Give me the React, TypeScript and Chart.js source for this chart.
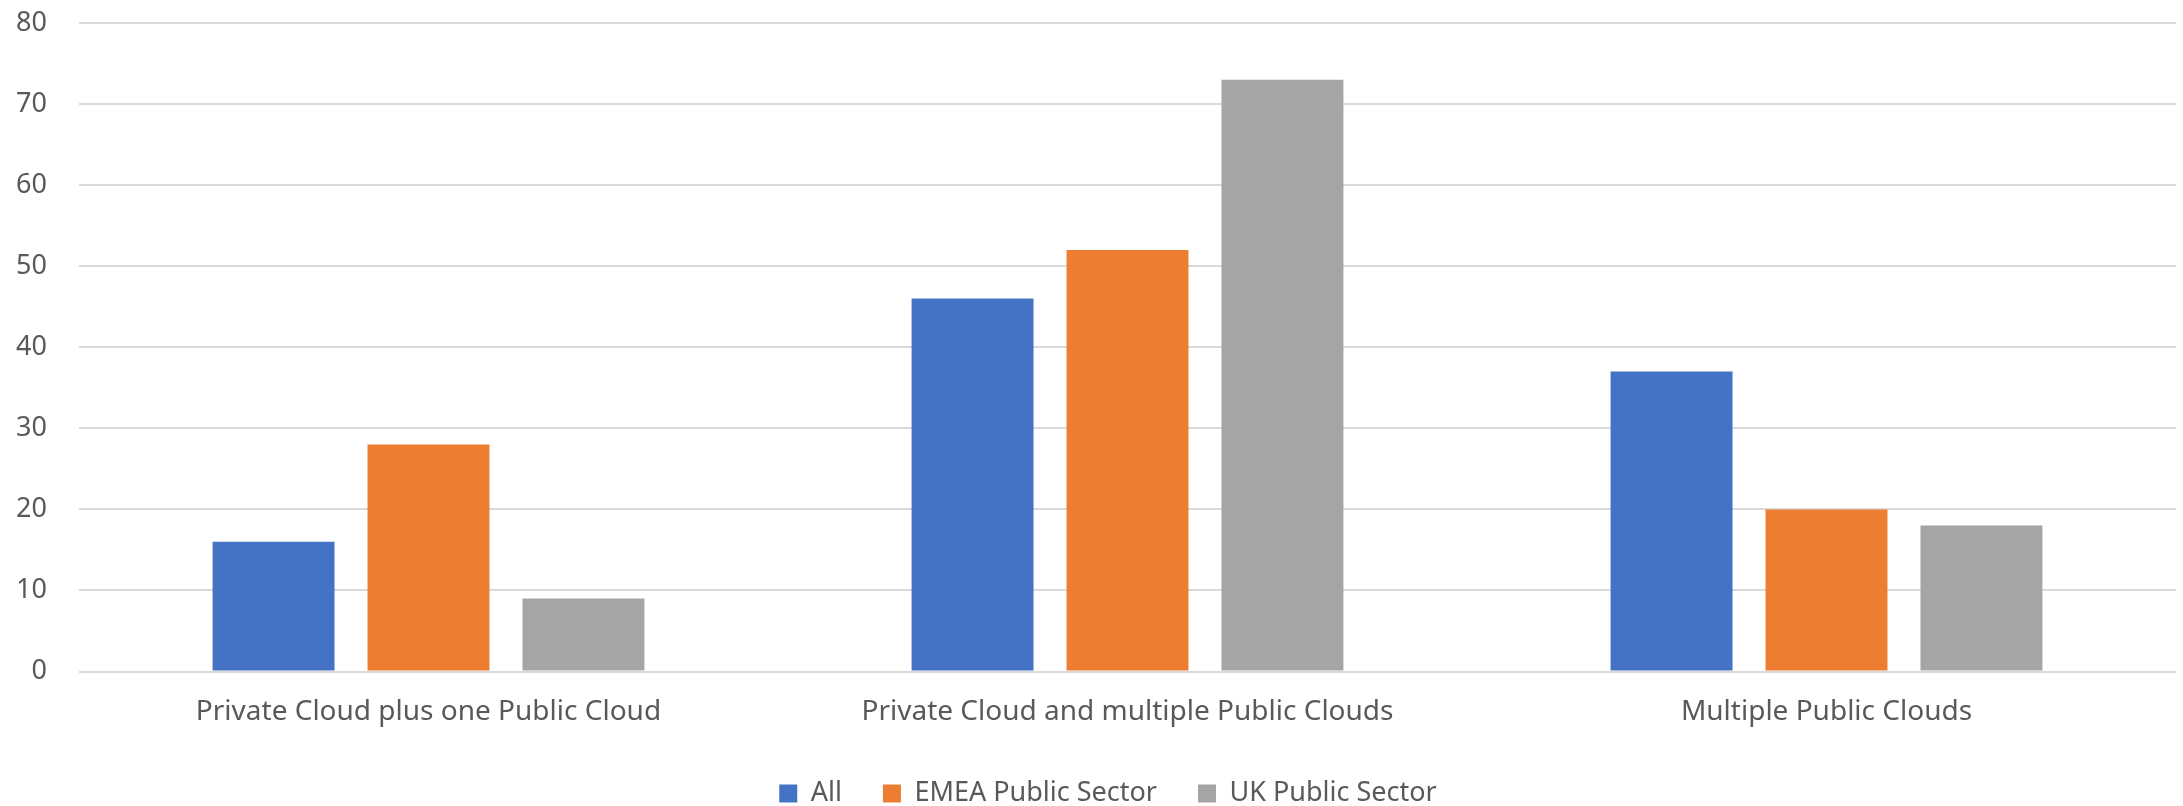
import React, { useEffect, useRef } from "react";
import { Chart, registerables } from "chart.js";

Chart.register(...registerables);

const categories = [
  "Private Cloud plus one Public Cloud",
  "Private Cloud and multiple Public Clouds",
  "Multiple Public Clouds",
];
const seriesNames = ["All", "EMEA Public Sector", "UK Public Sector"];
const allValues = [16, 46, 37];
const emeaValues = [28, 52, 20];
const ukValues = [9, 73, 18];
const colors = ["#4472C4", "#ED7D31", "#A5A5A5"];

const FONT = "'Noto Sans', 'Open Sans', sans-serif";
const TEXT = "#595959";

const legendShift = {
  id: "legendShift",
  afterLayout(chart: any) {
    if (chart.legend) chart.legend.left += 40;
  },
};

export default function App() {
  const ref = useRef<HTMLCanvasElement | null>(null);
  useEffect(() => {
    if (!ref.current) return;
    const values = [allValues, emeaValues, ukValues];
    const chart = new Chart(ref.current, {
      type: "bar",
      data: {
        labels: categories,
        datasets: seriesNames.map((name, i) => ({
          label: name,
          data: values[i],
          backgroundColor: colors[i],
          borderWidth: 0,
          categoryPercentage: 0.665,
          barPercentage: 0.787,
        })),
      },
      plugins: [legendShift],
      options: {
        animation: false,
        responsive: true,
        maintainAspectRatio: false,
        devicePixelRatio: 1,
        layout: { padding: { left: 0, right: 7, top: 23, bottom: -11 } },
        plugins: {
          tooltip: { enabled: false },
          legend: {
            position: "bottom",
            labels: {
              boxWidth: 18,
              boxHeight: 18,
              padding: 41,
              color: TEXT,
              font: { family: FONT, size: 27 },
            },
          },
        },
        scales: {
          x: {
            grid: { display: false, drawTicks: false },
            border: { display: false },
            ticks: {
              color: TEXT,
              font: { family: FONT, size: 28 },
              padding: 24,
              maxRotation: 0,
            },
            afterFit: (scale: any) => {
              scale.height = 67.5;
            },
          },
          y: {
            min: 0,
            max: 80,
            grid: { color: "#D9D9D9", lineWidth: 2, drawTicks: false },
            border: { display: false },
            ticks: {
              stepSize: 10,
              color: TEXT,
              font: { family: FONT, size: 27 },
              padding: 32,
            },
            afterFit: (scale: any) => {
              scale.width = 79;
              scale.paddingTop = 0;
              scale.paddingBottom = 0;
            },
          },
        },
      },
    });
    return () => chart.destroy();
  }, []);
  return (
    <div style={{ position: "absolute", left: 0, top: 0, width: 2183, height: 806, background: "#fff" }}>
      <canvas ref={ref} />
    </div>
  );
}
